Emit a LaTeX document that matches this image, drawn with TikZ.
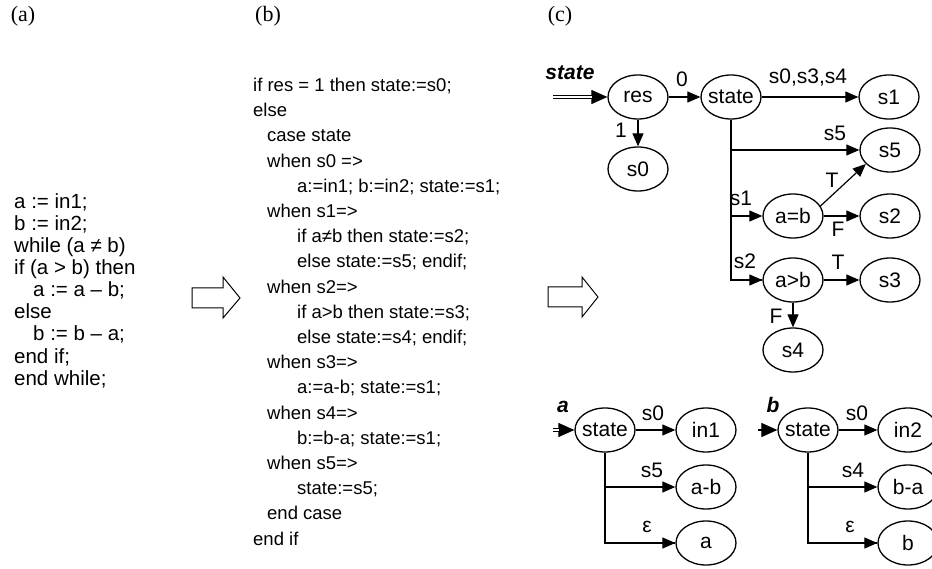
\documentclass[tikz,border=0pt]{standalone}
\usepackage{fontspec}
\setmainfont{Liberation Sans}
\newfontfamily\serifl{Liberation Serif}
\usetikzlibrary{arrows.meta,shapes.geometric}
\begin{document}
\begin{tikzpicture}[x=1pt,y=-1pt,
  stt/.style={ellipse,draw,line width=1.3pt,minimum width=60pt,minimum height=44pt,inner xsep=-2pt,inner ysep=0pt,font=\fontsize{21}{24}\selectfont},
  arr/.style={line width=1.2pt,-{Triangle[length=13pt,width=11pt]}},
  arrbig/.style={line width=1.2pt,-{Triangle[length=16pt,width=14pt]}},
  ln/.style={line width=1.2pt},
  dbl/.style={double,double distance=2pt,line width=1pt},
  lab/.style={font=\fontsize{21}{24}\selectfont,inner sep=0pt},
  blab/.style={font=\fontsize{21}{24}\selectfont\bfseries\itshape,inner sep=0pt},
  panel/.style={font=\fontsize{22}{24}\selectfont\serifl,inner sep=0pt},
  codea/.style={font=\fontsize{20.5}{22}\selectfont,inner sep=0pt,anchor=base west},
  codeb/.style={font=\fontsize{18.5}{22}\selectfont,inner sep=0pt,anchor=base west},
  hollow/.style={draw,line width=1pt}
]
\clip (0,0) rectangle (932,569);
% panel labels
\node[panel] (pa) at (23,16) {(a)};
\node[panel] (pb) at (268,16) {(b)};
\node[panel] (pc) at (560,16) {(c)};
% code (a)
\node[codea] (a1) at (14,209) {a := in1;};
\node[codea] (a2) at (14,231) {b := in2;};
\node[codea] (a3) at (14,253) {while (a ≠ b)};
\node[codea] (a4) at (14,275) {if (a > b) then};
\node[codea] (a5) at (33,297) {a := a – b;};
\node[codea] (a6) at (14,319) {else};
\node[codea] (a7) at (33,341) {b := b – a;};
\node[codea] (a8) at (14,363) {end if;};
\node[codea] (a9) at (14,385) {end while;};
% hollow arrows
\draw[hollow] (192,288) -- (223,288) -- (223,277) -- (240,298) -- (223,318) -- (223,308) -- (192,308) -- cycle;
\draw[hollow] (548,287) -- (582,287) -- (582,277) -- (598,297) -- (582,317) -- (582,307) -- (548,307) -- cycle;
% code (b)
\node[codeb] (b0) at (253,91.5) {if res = 1 then state:=s0;};
\node[codeb] (b1) at (253,116.7) {else};
\node[codeb] (b2) at (267,141.9) {case state};
\node[codeb] (b3) at (267,167.1) {when s0 =>};
\node[codeb] (b4) at (297,192.3) {a:=in1; b:=in2; state:=s1;};
\node[codeb] (b5) at (267,217.5) {when s1=>};
\node[codeb] (b6) at (297,242.7) {if a≠b then state:=s2;};
\node[codeb] (b7) at (297,267.9) {else state:=s5; endif;};
\node[codeb] (b8) at (267,293.1) {when s2=>};
\node[codeb] (b9) at (297,318.3) {if a>b then state:=s3;};
\node[codeb] (b10) at (297,343.5) {else state:=s4; endif;};
\node[codeb] (b11) at (267,368.7) {when s3=>};
\node[codeb] (b12) at (297,393.9) {a:=a-b; state:=s1;};
\node[codeb] (b13) at (267,419.1) {when s4=>};
\node[codeb] (b14) at (297,444.3) {b:=b-a; state:=s1;};
\node[codeb] (b15) at (267,469.5) {when s5=>};
\node[codeb] (b16) at (297,494.7) {state:=s5;};
\node[codeb] (b17) at (267,519.9) {end case};
\node[codeb] (b18) at (253,545.1) {end if};
% (c) main FSM
\node[blab] (lstate) at (570,73) {state};
\node[stt] (res) at (638,97) {res};
\node[stt] (st) at (731,97) {state};
\node[stt] (s1) at (889,97) {s1};
\node[stt] (s0) at (638,169) {s0};
\node[stt] (s5) at (890,150) {s5};
\node[stt] (ab) at (793,216) {a=b};
\node[stt] (s2) at (890,216) {s2};
\node[stt] (agb) at (793,280) {a>b};
\node[stt] (s3) at (890,280) {s3};
\node[stt] (s4) at (793,350) {s4};
\coordinate (in0) at (553,97);
\coordinate (in1) at (592,97);
\draw[arrbig] (in0) -- (res.west);
\draw[dbl] (in0) -- (in1);
\draw[arr] (res) -- (st);
\draw[arr] (st) -- (s1);
\draw[arr] (res) -- (s0);
\draw[ln] (st.south) |- (agb.west);
\draw[arr] (st.south |- agb.west) -- (agb.west);
\draw[arr] (st.south |- s5.west) -- (s5.west);
\draw[arr] (st.south |- ab.west) -- (ab.west);
\draw[arr] (ab.20) -- (s5.210);
\draw[arr] (ab) -- (s2);
\draw[arr] (agb) -- (s3);
\draw[arr] (agb) -- (s4);
\node[lab] (l0) at (682,79) {0};
\node[lab] (l034) at (808,78) {s0,s3,s4};
\node[lab] (l1) at (621,130) {1};
\node[lab] (l5) at (835,133) {s5};
\node[lab] (lT1) at (832,180) {T};
\node[lab] (ls1) at (741,198) {s1};
\node[lab] (lF1) at (838,229) {F};
\node[lab] (ls2) at (745,261) {s2};
\node[lab] (lT2) at (838,262) {T};
\node[lab] (lF2) at (776,316) {F};
% (c) a
\node[blab] (la) at (563,407) {a};
\node[stt] (sa) at (605,430) {state};
\node[stt] (ain) at (706,430) {in1};
\node[stt] (aab) at (706,487) {a-b};
\node[stt] (aa) at (706,543) {a};
\coordinate (ai0) at (553,430);
\coordinate (ai1) at (559,430);
\draw[arrbig] (ai0) -- (sa.west);
\draw[dbl] (ai0) -- (ai1);
\draw[arr] (sa) -- (ain);
\draw[ln] (sa.south) |- (aa.west);
\draw[arr] (sa.south |- aa.west) -- (aa.west);
\draw[arr] (sa.south |- aab.west) -- (aab.west);
\node[lab] (las0) at (653,413) {s0};
\node[lab] (las5) at (652,470) {s5};
\node[lab] (lae) at (647,527) {ε};
% (c) b
\node[blab] (lb) at (773,405) {b};
\node[stt] (sb) at (808,430) {state};
\node[stt] (bin) at (908,430) {in2};
\node[stt] (bba) at (908,487) {b-a};
\node[stt] (bb) at (908,543) {b};
\coordinate (bi0) at (758,430);
\draw[arrbig] (bi0) -- (sb.west);
\draw[arr] (sb) -- (bin);
\draw[ln] (sb.south) |- (bb.west);
\draw[arr] (sb.south |- bb.west) -- (bb.west);
\draw[arr] (sb.south |- bba.west) -- (bba.west);
\node[lab] (lbs0) at (857,413) {s0};
\node[lab] (lbs4) at (853,470) {s4};
\node[lab] (lbe) at (850,527) {ε};
\end{tikzpicture}
\end{document}
